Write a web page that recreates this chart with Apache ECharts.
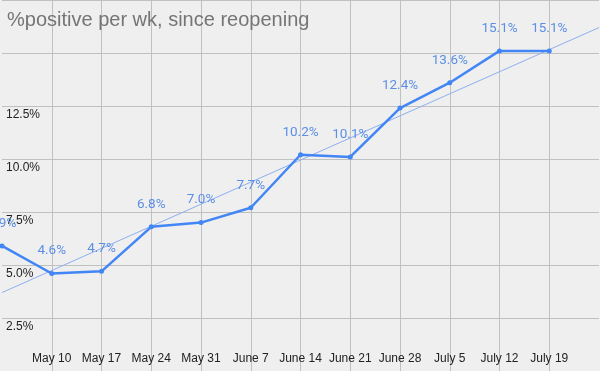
<!DOCTYPE html>
<html>
<head>
<meta charset="utf-8">
<script src="https://cdn.jsdelivr.net/npm/echarts@6/dist/echarts.min.js"></script>
<style>html,body{margin:0;padding:0;background:#efefef;}#c{width:600px;height:371px;}</style>
</head>
<body>
<div id="c"></div>
<script>
const categories = ['May 3','May 10','May 17','May 24','May 31','June 7','June 14','June 21','June 28','July 5','July 12','July 19','July 26'];
const positivity = [5.9, 4.6, 4.7, 6.8, 7.0, 7.7, 10.2, 10.1, 12.4, 13.6, 15.1, 15.1];
const trendEnds = [3.7, 16.2];
const yTickLabels = ['2.5%','5.0%','7.5%','10.0%','12.5%'];
const titleText = '%positive per wk, since reopening';

const trendData = categories.map((c, i) => i === 0 ? trendEnds[0] : (i === categories.length - 1 ? trendEnds[1] : null));
const lastIdx = categories.length - 1;

const chart = echarts.init(document.getElementById('c'));
chart.setOption({
  backgroundColor: '#efefef',
  animation: false,
  title: {
    text: titleText, left: 2, top: 5,
    textStyle: {color: '#757575', fontSize: 20, fontWeight: 'normal', fontFamily: 'Liberation Sans, Arial, sans-serif'}
  },
  grid: {left: 2, right: 1, top: 0, bottom: 0, containLabel: false},
  xAxis: {
    type: 'category', data: categories, boundaryGap: false,
    axisLine: {show: false}, axisTick: {show: false},
    axisLabel: {
      inside: true, margin: 6, color: '#222', fontSize: 12,
      fontFamily: 'Liberation Sans, Arial, sans-serif',
      interval: (i) => i > 0 && i < lastIdx
    },
    splitLine: {show: true, lineStyle: {color: '#c0c0c0', width: 1}}
  },
  yAxis: {
    type: 'value', min: 0, max: 17.5, interval: 2.5,
    axisLine: {show: false}, axisTick: {show: false},
    axisLabel: {
      inside: true, margin: 4, color: '#222', fontSize: 12, verticalAlign: 'top', padding: [3,0,0,0],
      fontFamily: 'Liberation Sans, Arial, sans-serif',
      formatter: (v) => { const s = v.toFixed(1) + '%'; return yTickLabels.indexOf(s) >= 0 ? s : ''; }
    },
    splitLine: {show: true, lineStyle: {color: '#c0c0c0', width: 1}}
  },
  series: [
    {
      type: 'line', data: trendData, connectNulls: true, symbol: 'none', silent: true,
      lineStyle: {color: '#8db0f0', width: 1}, z: 1
    },
    {
      type: 'line', data: positivity, symbol: 'circle', symbolSize: 5,
      itemStyle: {color: '#4285f4'},
      lineStyle: {color: '#4285f4', width: 2.5}, z: 2,
      label: {
        show: true, position: 'top', distance: 13, color: '#5b8fe6', fontSize: 13.5,
        fontFamily: 'Roboto, sans-serif',
        formatter: (p) => p.value.toFixed(1) + '%'
      }
    }
  ]
});
</script>
</body>
</html>
